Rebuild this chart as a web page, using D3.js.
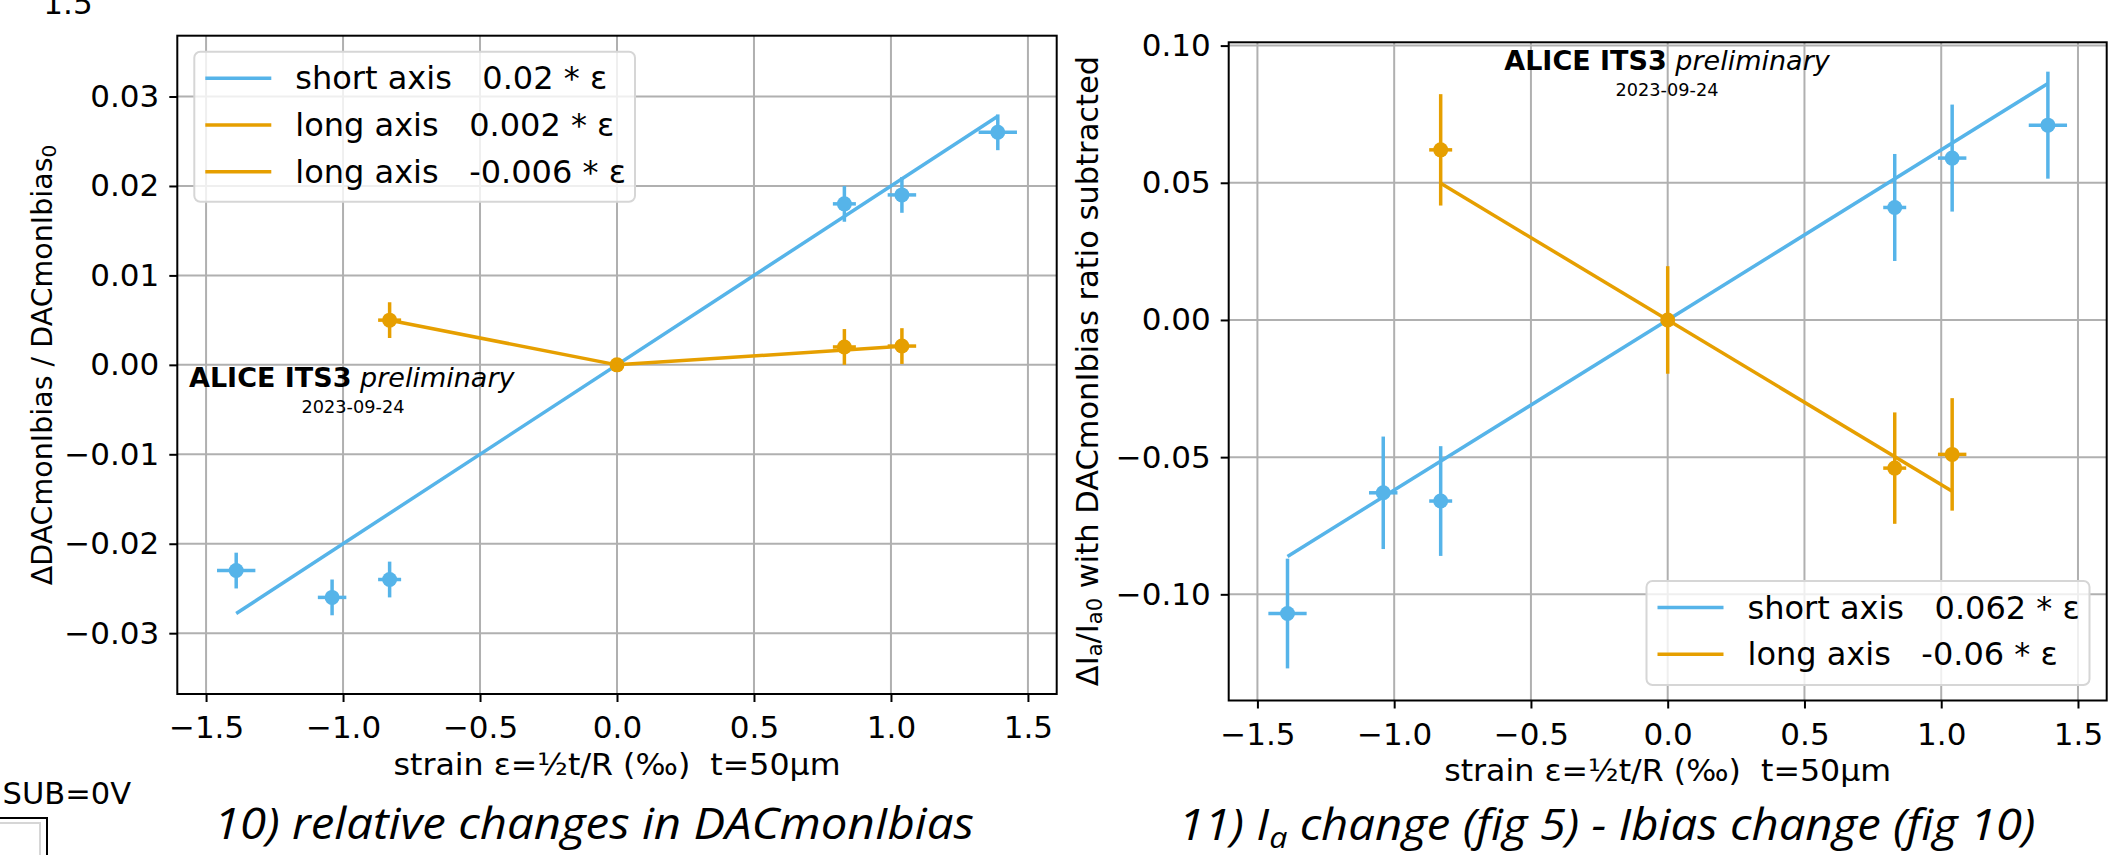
<!DOCTYPE html>
<html>
<head>
<meta charset="utf-8">
<script src="https://cdn.jsdelivr.net/npm/d3@7"></script>
<style>
  body { margin: 0; background: #fff; }
  svg text { font-family: "DejaVu Sans"; fill: #000; white-space: pre; }
</style>
</head>
<body>
<svg id="chart" width="2126" height="855"></svg>
<script>
// strain values (per mille) of the bent samples
const strainShort = [-1.39, -1.04, -0.83, 0.83, 1.04, 1.39];
const strainShortErr = [0.07, 0.052, 0.042, 0.042, 0.052, 0.07];
const strainLong = [-0.83, 0, 0.83, 1.04];
const strainLongErr = [0.042, 0, 0.042, 0.052];

// fig 10: relative DACmonIbias change
const ibiasShort = [-0.023, -0.026, -0.024, 0.018, 0.019, 0.026];
const ibiasShortErr = [0.002, 0.002, 0.002, 0.002, 0.002, 0.002];
const ibiasLong = [0.005, 0, 0.002, 0.0021];
const ibiasLongErr = [0.002, 0, 0.002, 0.002];

// fig 11: Ia change with Ibias ratio subtracted
const iaShort = [-0.107, -0.063, -0.066, 0.041, 0.059, 0.071];
const iaShortErr = [0.02, 0.0205, 0.02, 0.0195, 0.0195, 0.0195];
const iaLong = [0.062, 0, -0.054, -0.049];
const iaLongErr = [0.0203, 0.0196, 0.0203, 0.0205];

// linear fits: slope and strain range
const ibiasFitSlopes = [0.02, -0.006, 0.002];
const ibiasFitRanges = [[-1.39, 1.39], [-0.83, 0], [0, 1.04]];
const ibiasFitLabels = ["short axis   0.02 * ε", "long axis   0.002 * ε", "long axis   -0.006 * ε"];
const iaFitSlopes = [0.062, -0.06];
const iaFitRanges = [[-1.39, 1.39], [-0.83, 1.04]];
const iaFitLabels = ["short axis   0.062 * ε", "long axis   -0.06 * ε"];

const xTicks = [-1.5, -1.0, -0.5, 0.0, 0.5, 1.0, 1.5];
const ibiasTicks = [-0.03, -0.02, -0.01, 0.0, 0.01, 0.02, 0.03];
const iaTicks = [-0.10, -0.05, 0.0, 0.05, 0.10];

const blue = "#56b4e9";
const orange = "#e69f00";
const nb = s => s.replace(/ /g, "\u00a0");

const svg = d3.select("#chart");

function drawErrorbars(g, x, y, xs, xe, ys, ye, color) {
  const pts = xs.map((d, i) => ({ x: d, xe: xe[i], y: ys[i], ye: ye[i] }));
  const s = g.append("g");
  s.selectAll(".ey").data(pts).enter().append("line")
    .attr("x1", d => x(d.x)).attr("x2", d => x(d.x))
    .attr("y1", d => y(d.y - d.ye)).attr("y2", d => y(d.y + d.ye))
    .attr("stroke", color).attr("stroke-width", 3.5);
  s.selectAll(".ex").data(pts).enter().append("line")
    .attr("x1", d => x(d.x - d.xe)).attr("x2", d => x(d.x + d.xe))
    .attr("y1", d => y(d.y)).attr("y2", d => y(d.y))
    .attr("stroke", color).attr("stroke-width", 3.5);
  s.selectAll("circle").data(pts).enter().append("circle")
    .attr("cx", d => x(d.x)).attr("cy", d => y(d.y)).attr("r", 7.5)
    .attr("fill", color);
}

function drawFits(g, x, y, slopes, ranges, colors) {
  g.selectAll(null).data(slopes).enter().append("line")
    .attr("x1", (d, i) => x(ranges[i][0])).attr("y1", (d, i) => y(d * ranges[i][0]))
    .attr("x2", (d, i) => x(ranges[i][1])).attr("y2", (d, i) => y(d * ranges[i][1]))
    .attr("stroke", (d, i) => colors[i]).attr("stroke-width", 3.5);
}

function drawPanel(p) {
  const width = p.right - p.left;
  const height = p.bottom - p.top;
  const g = svg.append("g").attr("transform", `translate(${p.left},${p.top})`);

  const x = d3.scaleLinear().domain([-1.605, 1.605]).range([0, width]);
  const y = d3.scaleLinear().domain(p.yDomain).range([height, 0]);

  // grid
  g.append("g").selectAll("line").data(xTicks).enter().append("line")
    .attr("x1", d => x(d)).attr("x2", d => x(d)).attr("y1", 0).attr("y2", height)
    .attr("stroke", "#b0b0b0").attr("stroke-width", 2);
  g.append("g").selectAll("line").data(p.yTicks).enter().append("line")
    .attr("x1", 0).attr("x2", width).attr("y1", d => y(d)).attr("y2", d => y(d))
    .attr("stroke", "#b0b0b0").attr("stroke-width", 2);

  drawErrorbars(g, x, y, strainShort, strainShortErr, p.short, p.shortErr, blue);
  drawFits(g, x, y, p.slopes.slice(0, 1), p.ranges.slice(0, 1), [blue]);
  drawErrorbars(g, x, y, strainLong, strainLongErr, p.long, p.longErr, orange);
  drawFits(g, x, y, p.slopes.slice(1), p.ranges.slice(1), p.slopes.slice(1).map(() => orange));

  g.append("rect").attr("width", width).attr("height", height)
    .attr("fill", "none").attr("stroke", "#000").attr("stroke-width", 2);

  const xAxis = g.append("g").attr("transform", `translate(0,${height})`)
    .call(d3.axisBottom(x).tickValues(xTicks).tickFormat(d3.format(".1f")).tickSize(8).tickPadding(14));
  const yAxis = g.append("g")
    .call(d3.axisLeft(y).tickValues(p.yTicks).tickFormat(d3.format(".2f")).tickSize(8).tickPadding(10));
  [xAxis, yAxis].forEach(a => {
    a.select(".domain").remove();
    a.selectAll(".tick line").attr("stroke", "#000").attr("stroke-width", 2);
    a.selectAll("text").style("font-family", "DejaVu Sans").style("font-size", "31px").attr("fill", "#000");
  });

  g.append("text")
    .attr("x", width / 2).attr("y", height + 81)
    .attr("text-anchor", "middle")
    .style("font-size", "30px")
    .attr("textLength", 447).attr("lengthAdjust", "spacingAndGlyphs")
    .text(nb("strain ε=½t/R (‰)  t=50µm"));

  // legend
  const L = p.legend;
  const lg = svg.append("g");
  lg.append("rect").attr("x", L.x).attr("y", L.y).attr("width", L.w).attr("height", L.h)
    .attr("rx", 6).attr("fill", "#fff").attr("fill-opacity", 0.8)
    .attr("stroke", "#d6d6d6").attr("stroke-width", 2);
  const colors = p.slopes.map((d, i) => (i === 0 ? blue : orange));
  p.labels.forEach((lab, i) => {
    const ry = L.y + 26.6 + i * 46.7;
    lg.append("line").attr("x1", L.x + 11).attr("x2", L.x + 77).attr("y1", ry).attr("y2", ry)
      .attr("stroke", colors[i]).attr("stroke-width", 3.5);
    lg.append("text").attr("x", L.x + 101).attr("y", ry + 11)
      .style("font-size", "32px").text(nb(lab));
  });

  // watermark
  const A = p.alice;
  const t = svg.append("text").attr("x", A.x).attr("y", A.y).attr("text-anchor", A.anchor)
    .style("font-size", "27px");
  t.append("tspan").style("font-weight", "bold").text("ALICE ITS3");
  t.append("tspan").style("font-style", "italic").text(nb(" preliminary"));
  svg.append("text").attr("x", A.dx).attr("y", A.y + 26).attr("text-anchor", "middle")
    .style("font-size", "17.7px").text("2023-09-24");

  return g;
}

drawPanel({
  left: 177.3, top: 35.7, right: 1056.7, bottom: 694,
  yDomain: [-0.0368, 0.0368], yTicks: ibiasTicks,
  short: ibiasShort, shortErr: ibiasShortErr, long: ibiasLong, longErr: ibiasLongErr,
  slopes: ibiasFitSlopes, ranges: ibiasFitRanges, labels: ibiasFitLabels,
  legend: { x: 194.3, y: 51.7, w: 440.7, h: 150 },
  alice: { x: 189, y: 387, anchor: "start", dx: 353 }
});

drawPanel({
  left: 1228.7, top: 42.3, right: 2106.7, bottom: 700.5,
  yDomain: [-0.1387, 0.1012], yTicks: iaTicks,
  short: iaShort, shortErr: iaShortErr, long: iaLong, longErr: iaLongErr,
  slopes: iaFitSlopes, ranges: iaFitRanges, labels: iaFitLabels,
  legend: { x: 1646.5, y: 581, w: 443, h: 104 },
  alice: { x: 1667, y: 70, anchor: "middle", dx: 1667 }
});

// y axis labels
const yl1 = svg.append("text").attr("transform", "translate(52,365) rotate(-90)")
  .attr("text-anchor", "middle").style("font-size", "28.5px");
yl1.append("tspan").text(nb("ΔDACmonIbias / DACmonIbias"));
yl1.append("tspan").attr("baseline-shift", "-20%").style("font-size", "20px").text("0");

const yl2 = svg.append("text").attr("transform", "translate(1098,371) rotate(-90)")
  .attr("text-anchor", "middle").style("font-size", "30.5px");
yl2.append("tspan").text("ΔI");
yl2.append("tspan").attr("baseline-shift", "-20%").style("font-size", "21px").text("a");
yl2.append("tspan").text("/I");
yl2.append("tspan").attr("baseline-shift", "-20%").style("font-size", "21px").text("a0");
yl2.append("tspan").text(nb(" with DACmonIbias ratio subtracted"));

// slide captions
const capStyle = (t, len) => t.style("font-family", "'Open Sans'").style("font-style", "italic")
  .style("font-weight", 400).style("font-size", "44px").attr("text-anchor", "middle")
  .attr("textLength", len).attr("lengthAdjust", "spacingAndGlyphs");
capStyle(svg.append("text").attr("x", 594).attr("y", 839), 760).text("10) relative changes in DACmonIbias");
const cap2 = capStyle(svg.append("text").attr("x", 1607).attr("y", 840), 857);
cap2.append("tspan").text("11) I");
cap2.append("tspan").attr("baseline-shift", "-25%").style("font-size", "30px").text("a");
cap2.append("tspan").text(" change (fig 5) - Ibias change (fig 10)");

// fragments of the neighbouring plots on the slide
svg.append("text").attr("x", 68).attr("y", 14).attr("text-anchor", "middle")
  .style("font-size", "31px").text("1.5");
svg.append("text").attr("x", 131).attr("y", 804).attr("text-anchor", "end")
  .style("font-size", "30.5px").text("SUB=0V");
svg.append("path").attr("d", "M0,818H47V855").attr("fill", "none").attr("stroke", "#000").attr("stroke-width", 2);
svg.append("path").attr("d", "M0,823H40V855").attr("fill", "none").attr("stroke", "#d6d6d6").attr("stroke-width", 2);
</script>
</body>
</html>
